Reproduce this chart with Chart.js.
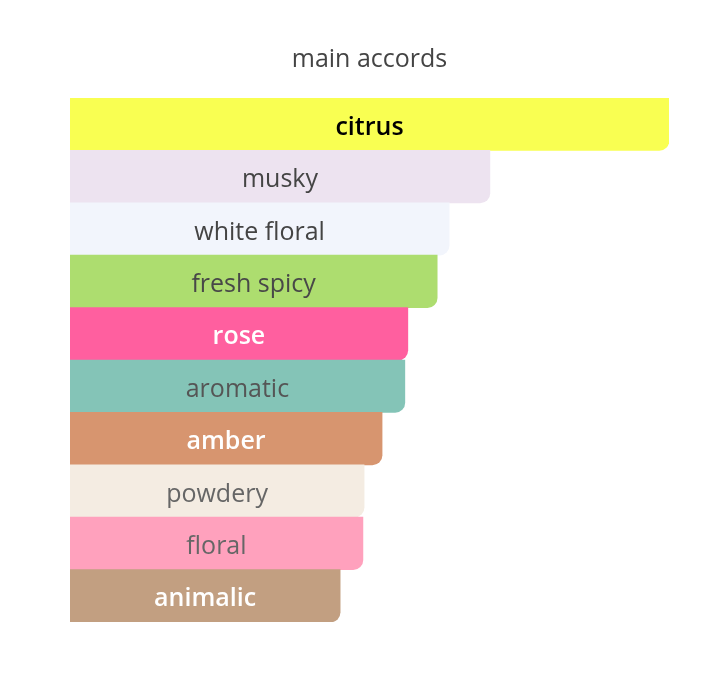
<!DOCTYPE html>
<html>
<head>
<meta charset="utf-8">
<script src="https://cdn.jsdelivr.net/npm/chart.js@4"></script>
<style>
  html, body { margin: 0; padding: 0; background: #fff; }
  #wrap { width: 723px; height: 679px; }
</style>
</head>
<body>
<div id="wrap"><canvas id="accords"></canvas></div>
<script>
const accords = ['citrus', 'musky', 'white floral', 'fresh spicy', 'rose',
  'aromatic', 'amber', 'powdery', 'floral', 'animalic'];
const strength = [100, 70.1, 63.3, 61.3, 56.4, 55.9, 52.1, 49.1, 48.9, 45.1];
const barColors = ['#f9ff52', '#ede3f0', '#f2f5fc', '#addd6f', '#ff5f9f',
  '#84c4b7', '#d7956f', '#f4ece2', '#ffa1bd', '#c29f81'];
const textColors = ['#000000', '#444444', '#444444', '#484848', '#ffffff',
  '#555555', '#ffffff', '#666666', '#666666', '#ffffff'];
const textWeights = ['600', '500', '500', '500', '600', '500', '600', '500', '500', '600'];

// draws the accord name centred in each bar
const barText = {
  id: 'barText',
  afterDatasetsDraw(chart) {
    const ctx = chart.ctx;
    const meta = chart.getDatasetMeta(0);
    ctx.save();
    ctx.textAlign = 'center';
    ctx.textBaseline = 'middle';
    meta.data.forEach((bar, i) => {
      ctx.font = textWeights[i] + ' 25px "Open Sans", sans-serif';
      ctx.fillStyle = textColors[i];
      ctx.fillText(accords[i], (bar.base + bar.x) / 2, bar.y + 3.5);
    });
    ctx.restore();
  }
};

new Chart(document.getElementById('accords'), {
  type: 'bar',
  data: {
    labels: accords,
    datasets: [{
      data: strength,
      backgroundColor: barColors,
      borderWidth: 0,
      borderRadius: { topLeft: 0, topRight: 0, bottomLeft: 0, bottomRight: 10 },
      barPercentage: 1.0,
      categoryPercentage: 1.0
    }]
  },
  options: {
    indexAxis: 'y',
    responsive: true,
    maintainAspectRatio: false,
    animation: false,
    layout: { padding: { left: 70, right: 54, top: 0, bottom: 57 } },
    scales: {
      x: { display: false, min: 0, max: 100 },
      y: { display: false }
    },
    plugins: {
      legend: { display: false },
      tooltip: { enabled: false },
      title: {
        display: true,
        text: 'main accords',
        color: '#444444',
        font: { family: '"Open Sans", sans-serif', size: 25, weight: '400' },
        padding: { top: 45, bottom: 23 }
      }
    }
  },
  plugins: [barText]
});
</script>
</body>
</html>
